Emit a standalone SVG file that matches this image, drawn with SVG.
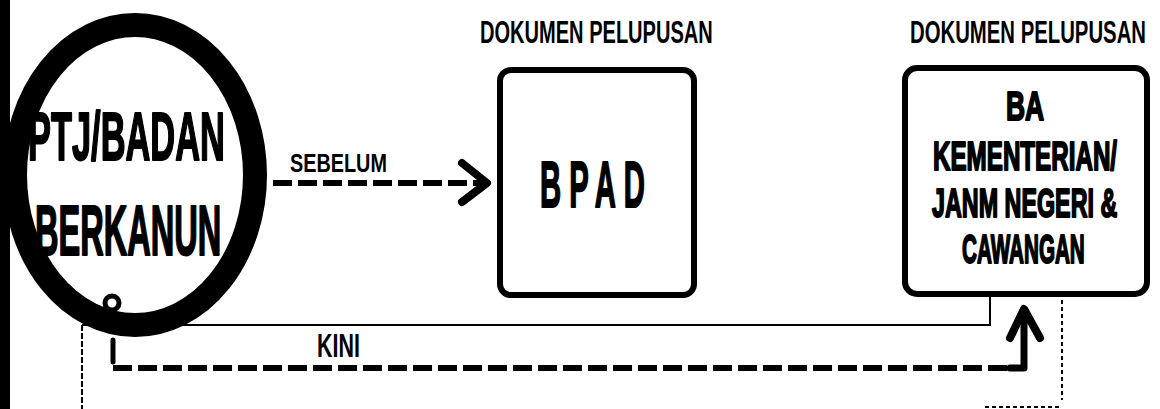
<svg xmlns="http://www.w3.org/2000/svg" width="1160" height="409" viewBox="0 0 1160 409">
<style>
.t{font-family:"Liberation Sans","DejaVu Sans",sans-serif;font-weight:bold;fill:#000}
.h{stroke:#000;stroke-width:2;stroke-linejoin:round}
.box{fill:#fff;stroke:#000;stroke-width:6}
.dash{fill:none;stroke:#000;stroke-width:6;stroke-dasharray:19 6}
.solid{fill:none;stroke:#000;stroke-linecap:round;stroke-linejoin:round}
.thin{fill:none;stroke:#000;stroke-width:2}
</style>
<rect width="1160" height="409" fill="#fff"/>
<rect x="0" y="0" width="10" height="409" fill="#000"/>
<g id="connectors">
  <path class="thin" d="M82 325 H990 V297"/>
  <path class="thin" d="M82 325 V409" stroke-dasharray="6 2"/>
  <path class="thin" d="M1062 300 V400" stroke-dasharray="4 3"/>
  <path class="thin" d="M985 407 H1062" stroke-dasharray="4 3"/>
  <path class="dash" d="M273 183 H482"/>
  <polyline class="solid" stroke-width="8" points="462,163 487,183 462,202"/>
  <path class="solid" stroke-width="5" d="M113 340 V362"/>
  <path class="dash" d="M113 368 H1012"/>
  <path class="solid" stroke-width="7" d="M1010 368 H1024 V312"/>
  <polyline class="solid" stroke-width="8" points="1010,338 1024,309 1040,338"/>
</g>
<g id="ptj">
  <ellipse cx="135" cy="175" rx="120" ry="150" fill="#fff" stroke="#000" stroke-width="24"/>
  <circle cx="112" cy="303" r="7" fill="#fff" stroke="#000" stroke-width="5"/>
  <text class="t h" transform="translate(28,160) scale(0.506,1)" font-size="68">PTJ/BADAN</text>
  <text class="t h" transform="translate(35,255) scale(0.465,1)" font-size="70">BERKANUN</text>
</g>
<g id="label-sebelum">
  <text class="t" transform="translate(290,172) scale(0.763,1)" font-size="26">SEBELUM</text>
</g>
<g id="label-kini">
  <text class="t" transform="translate(317,357) scale(0.65,1)" font-size="33">KINI</text>
</g>
<g id="bpad">
  <text class="t" transform="translate(480,43) scale(0.647,1)" font-size="31">DOKUMEN PELUPUSAN</text>
  <rect class="box" x="500" y="70" width="194" height="225" rx="11"/>
  <text class="t h" transform="translate(540,207) scale(0.45,1)" font-size="65" letter-spacing="18">BPAD</text>
</g>
<g id="ba">
  <text class="t" transform="translate(910,43) scale(0.656,1)" font-size="31">DOKUMEN PELUPUSAN</text>
  <rect class="box" x="905" y="68" width="242" height="226" rx="12"/>
  <text class="t h" transform="translate(1006,120) scale(0.645,1)" font-size="41">BA</text>
  <text class="t h" transform="translate(933,170) scale(0.59,1)" font-size="41">KEMENTERIAN/</text>
  <text class="t h" transform="translate(932,217) scale(0.569,1)" font-size="41">JANM NEGERI &amp;</text>
  <text class="t h" transform="translate(962,263) scale(0.504,1)" font-size="41">CAWANGAN</text>
</g>
</svg>
